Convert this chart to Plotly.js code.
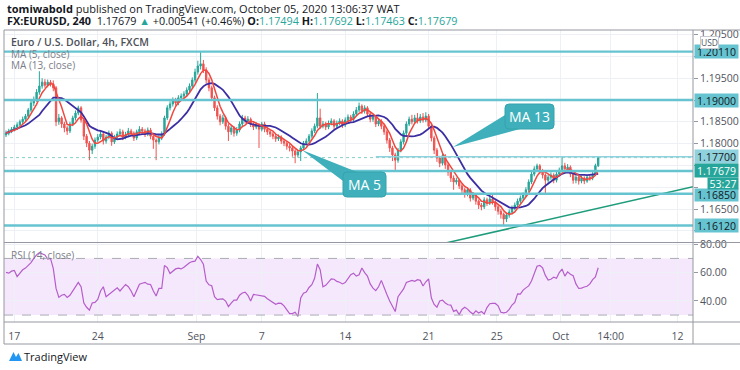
<!DOCTYPE html>
<html><head><meta charset="utf-8">
<script src="https://cdn.plot.ly/plotly-3.0.1.min.js"></script>
<style>body{margin:0;background:#fff}#c{width:740px;height:370px}</style>
</head><body><div id="c"></div>
<script>
// ---- data (EUR/USD 4h, bar index 0..213) ----
const firstOpen = 1.1820;
const closes = [
1.1824,1.1829,1.1833,1.1838,1.1843,1.1850,1.1856,1.1863,1.1877,1.1893,
1.1900,1.1918,1.1932,1.1941,1.1934,1.1941,1.1937,1.1928,1.1850,1.1859,
1.1845,1.1836,1.1829,1.1845,1.1859,1.1870,1.1882,1.1854,1.1817,1.1801,
1.1785,1.1794,1.1808,1.1815,1.1822,1.1806,1.1815,1.1824,1.1804,1.1815,
1.1822,1.1827,1.1815,1.1820,1.1829,1.1824,1.1813,1.1827,1.1833,1.1829,
1.1822,1.1831,1.1817,1.1808,1.1804,1.1813,1.1822,1.1859,1.1882,1.1891,
1.1900,1.1893,1.1905,1.1909,1.1914,1.1923,1.1932,1.1946,1.1964,1.1978,
1.1983,1.1969,1.1946,1.1928,1.1905,1.1882,1.1863,1.1850,1.1859,1.1840,
1.1827,1.1836,1.1824,1.1831,1.1845,1.1859,1.1852,1.1856,1.1845,1.1838,
1.1843,1.1833,1.1845,1.1833,1.1827,1.1822,1.1817,1.1811,1.1815,1.1806,
1.1801,1.1794,1.1790,1.1783,1.1774,1.1781,1.1790,1.1801,1.1806,1.1817,
1.1829,1.1840,1.1859,1.1840,1.1845,1.1838,1.1847,1.1852,1.1840,1.1847,
1.1852,1.1843,1.1854,1.1861,1.1856,1.1868,1.1877,1.1886,1.1875,1.1882,
1.1868,1.1856,1.1861,1.1845,1.1852,1.1840,1.1827,1.1808,1.1790,1.1774,
1.1762,1.1785,1.1804,1.1824,1.1845,1.1856,1.1850,1.1859,1.1852,1.1861,
1.1854,1.1863,1.1840,1.1813,1.1785,1.1767,1.1755,1.1772,1.1751,1.1735,
1.1721,1.1712,1.1716,1.1703,1.1694,1.1684,1.1694,1.1675,1.1682,1.1668,
1.1659,1.1655,1.1671,1.1664,1.1673,1.1666,1.1655,1.1645,1.1638,1.1627,
1.1636,1.1643,1.1652,1.1659,1.1668,1.1675,1.1682,1.1694,1.1712,1.1730,
1.1742,1.1749,1.1737,1.1728,1.1716,1.1723,1.1728,1.1716,1.1730,1.1739,
1.1749,1.1742,1.1746,1.1730,1.1716,1.1723,1.1714,1.1721,1.1714,1.1723,
1.1721,1.1730,1.17494,1.17679];
const highs = [
1.1830,1.1834,1.1838,1.1843,1.1849,1.1855,1.1862,1.1868,1.1882,1.1899,
1.1908,1.1925,1.1966,1.1950,1.1948,1.1947,1.1946,1.1945,1.1932,1.1868,
1.1863,1.1850,1.1840,1.1850,1.1864,1.1876,1.1887,1.1886,1.1858,1.1822,
1.1806,1.1800,1.1814,1.1822,1.1828,1.1826,1.1820,1.1830,1.1828,1.1820,
1.1828,1.1834,1.1832,1.1827,1.1836,1.1834,1.1828,1.1832,1.1840,1.1838,
1.1834,1.1837,1.1836,1.1822,1.1812,1.1819,1.1828,1.1864,1.1888,1.1897,
1.1906,1.1905,1.1911,1.1915,1.1920,1.1929,1.1938,1.1952,1.1972,1.1990,
1.2011,1.1992,1.1975,1.1952,1.1933,1.1910,1.1888,1.1868,1.1866,1.1864,
1.1845,1.1842,1.1840,1.1838,1.1851,1.1866,1.1864,1.1863,1.1860,1.1849,
1.1849,1.1847,1.1850,1.1850,1.1838,1.1832,1.1827,1.1822,1.1821,1.1819,
1.1811,1.1806,1.1799,1.1795,1.1787,1.1786,1.1795,1.1806,1.1812,1.1822,
1.1835,1.1846,1.1916,1.1880,1.1852,1.1850,1.1853,1.1858,1.1856,1.1853,
1.1858,1.1856,1.1860,1.1867,1.1866,1.1874,1.1884,1.1894,1.1890,1.1888,
1.1886,1.1872,1.1868,1.1865,1.1858,1.1856,1.1845,1.1832,1.1813,1.1795,
1.1779,1.1790,1.1810,1.1830,1.1851,1.1862,1.1866,1.1866,1.1870,1.1868,
1.1870,1.1872,1.1868,1.1845,1.1818,1.1790,1.1772,1.1778,1.1776,1.1756,
1.1740,1.1727,1.1722,1.1720,1.1708,1.1699,1.1700,1.1698,1.1689,1.1686,
1.1672,1.1664,1.1677,1.1676,1.1680,1.1685,1.1670,1.1660,1.1650,1.1642,
1.1642,1.1649,1.1658,1.1665,1.1674,1.1681,1.1688,1.1700,1.1718,1.1737,
1.1748,1.1754,1.1753,1.1742,1.1732,1.1729,1.1734,1.1732,1.1736,1.1745,
1.1771,1.1756,1.1753,1.1750,1.1734,1.1728,1.1727,1.1726,1.1725,1.1728,
1.1728,1.1735,1.1754,1.17692];
const lows = [
1.1815,1.1819,1.1824,1.1828,1.1832,1.1839,1.1845,1.1851,1.1859,1.1872,
1.1886,1.1896,1.1912,1.1926,1.1928,1.1929,1.1931,1.1920,1.1840,1.1843,
1.1836,1.1826,1.1820,1.1824,1.1840,1.1853,1.1865,1.1848,1.1808,1.1792,
1.1762,1.1776,1.1788,1.1803,1.1810,1.1798,1.1800,1.1810,1.1795,1.1799,
1.1810,1.1817,1.1808,1.1810,1.1815,1.1818,1.1806,1.1808,1.1822,1.1823,
1.1815,1.1817,1.1810,1.1788,1.1762,1.1798,1.1808,1.1818,1.1854,1.1876,
1.1885,1.1887,1.1888,1.1899,1.1904,1.1909,1.1918,1.1927,1.1940,1.1958,
1.1970,1.1962,1.1938,1.1920,1.1898,1.1875,1.1855,1.1842,1.1845,1.1832,
1.1806,1.1820,1.1816,1.1818,1.1826,1.1840,1.1846,1.1847,1.1838,1.1831,
1.1833,1.1790,1.1828,1.1826,1.1820,1.1815,1.1810,1.1804,1.1806,1.1799,
1.1794,1.1786,1.1782,1.1770,1.1755,1.1768,1.1760,1.1785,1.1796,1.1800,
1.1812,1.1824,1.1835,1.1834,1.1835,1.1831,1.1833,1.1842,1.1833,1.1835,
1.1842,1.1836,1.1838,1.1849,1.1850,1.1851,1.1863,1.1872,1.1868,1.1869,
1.1861,1.1849,1.1850,1.1838,1.1840,1.1833,1.1820,1.1800,1.1781,1.1760,
1.1737,1.1756,1.1780,1.1798,1.1818,1.1840,1.1844,1.1845,1.1846,1.1847,
1.1848,1.1849,1.1833,1.1805,1.1776,1.1758,1.1746,1.1750,1.1742,1.1726,
1.1712,1.1694,1.1706,1.1696,1.1686,1.1676,1.1679,1.1667,1.1670,1.1660,
1.1650,1.1647,1.1650,1.1657,1.1659,1.1660,1.1646,1.1637,1.1628,1.1612,
1.1620,1.1630,1.1638,1.1647,1.1654,1.1663,1.1670,1.1677,1.1689,1.1707,
1.1725,1.1736,1.1731,1.1720,1.1685,1.1710,1.1717,1.1709,1.1711,1.1725,
1.1734,1.1736,1.1737,1.1723,1.1708,1.1709,1.1706,1.1709,1.1707,1.1710,
1.1715,1.1716,1.1726,1.17463];
const rsiValues = [
60.1,59.6,61,61.5,57.2,60,62,63.2,64.8,67,
70,72.5,74,73.3,72.4,69.5,70,63,48.8,42.5,
44,44.6,42.5,44,47,50.5,53.1,50,38.5,35.5,
33.5,38.5,38.9,41,47,50,43,44.5,46.3,48,
49.2,47,49.5,51.6,50,47,43,47,51.8,52.5,
53.1,51.8,51.6,47,43.5,48.8,48.8,65,63.5,59.4,
61,62.6,63.2,62.6,63.8,65.7,67,67.8,68.1,71.5,
69.2,66,54,51.4,50.7,43,40.9,41.3,41.5,39.9,
36,38.5,40.6,40.6,44,45.6,46.2,44,40,44.6,
44.3,44,43.8,43.2,41.5,40,38.5,37.6,38.4,38.2,
36.5,34,31,31,32,29,42,45.5,46.2,49.5,
51.5,56,66,62,50,51,53,55.5,55.3,53.8,
53.2,52,53,55.8,58.5,59.5,57.5,58.5,63.2,60,
57.5,52,49,47.2,50,54.5,49,44.5,40,36.5,
32.5,43,45.5,48.5,53,54,54.5,53.8,55,54.5,
50.5,53.5,55.5,42,37.5,35.5,40,40.6,38.5,37.3,
37,32.6,33.5,30.3,34,35.5,34.2,32.2,30.7,33,
31.5,32.5,30.8,35.3,38,38.2,38.2,36.5,32,31.5,
32,34,37.1,39,45,44.8,47.6,49.2,50.6,54,
60,64.5,65,63.3,58,54.7,55.3,56.8,56,60,
62.5,57.5,60.5,58.8,57.8,52,48.8,49,49.8,50.3,
52,55,57,63.4];
const tickVals = [3,33,68.5,92,122,152,176.5,199.5,217.5,241.5];
const tickText = ['17','24','Sep','7','14','21','25','Oct','14:00','12'];
const priceTicks = [1.160,1.165,1.170,1.175,1.180,1.185,1.190,1.195,1.200,1.205];
// tick labels hidden behind the level/price boxes on the right scale
const priceTickText = ['','1.16500','','','1.18000','1.18500','','1.19500','','1.20500'];
const rsiTicks = [40,60,80];
const levels = [1.2011,1.1900,1.1737,1.1685,1.1612];
const rayLevel = 1.1770, rayStart = 133;
const lastPrice = 1.17679;
const trendX = [155,247.1], trendY = [1.15675,1.1701];

// ---- derived ----
const idx = closes.map((_,i)=>i);
const opens = closes.map((c,i)=> i ? closes[i-1] : firstOpen);
function sma(a,n){return a.map((_,i)=>{const s=a.slice(Math.max(0,i-n+1),i+1);return s.reduce((p,c)=>p+c,0)/s.length;});}
const ma5 = sma(closes,5), ma13 = sma(closes,13);

// pixel -> paper helpers for layout decorations
const L=4,R=693,T=30,B=344;
const X = p => (p-L)/(R-L);
const Y = p => (B-p)/(B-T);
function poly(pts){return 'M'+pts.map(p=>X(p[0])+','+Y(p[1])).join(' L')+' Z';}
function rrect(x0,y0,x1,y1,r){
  return `M${X(x0+r)},${Y(y0)} L${X(x1-r)},${Y(y0)} Q${X(x1)},${Y(y0)} ${X(x1)},${Y(y0+r)} L${X(x1)},${Y(y1-r)} Q${X(x1)},${Y(y1)} ${X(x1-r)},${Y(y1)} L${X(x0+r)},${Y(y1)} Q${X(x0)},${Y(y1)} ${X(x0)},${Y(y1-r)} L${X(x0)},${Y(y0+r)} Q${X(x0)},${Y(y0)} ${X(x0+r)},${Y(y0)} Z`;
}

const UP='#26a69a', DN='#ef5350', LVL='#66c3d0', CALL='#3fb0bb';
const FONT='Open Sans, sans-serif';

const traces = [
 {type:'candlestick', x:idx, open:opens, high:highs, low:lows, close:closes, xaxis:'x', yaxis:'y',
  increasing:{line:{color:UP,width:1},fillcolor:UP}, decreasing:{line:{color:DN,width:1},fillcolor:DN},
  whiskerwidth:0, hoverinfo:'skip'},
 {type:'scatter', mode:'lines', x:idx, y:ma13, line:{color:'#3b2ea3',width:1.8}, xaxis:'x', yaxis:'y', hoverinfo:'skip'},
 {type:'scatter', mode:'lines', x:idx, y:ma5, line:{color:'#f0473f',width:1.5}, xaxis:'x', yaxis:'y', hoverinfo:'skip'},
 {type:'scatter', mode:'lines', x:trendX, y:trendY, line:{color:'#1e9c7c',width:1.5}, xaxis:'x', yaxis:'y', hoverinfo:'skip'},
 {type:'scatter', mode:'lines', x:idx, y:rsiValues, line:{color:'#b55dca',width:1.2}, xaxis:'x', yaxis:'y2', hoverinfo:'skip'}
];

const shapes = [
 {type:'rect', xref:'paper', x0:0, x1:1, yref:'y2', y0:30, y1:70, fillcolor:'#f5e8fc', line:{width:0}, layer:'below'},
 {type:'line', xref:'paper', x0:0, x1:1, yref:'y2', y0:70, y1:70, line:{color:'#a9acb5',width:1,dash:'dash'}},
 {type:'line', xref:'paper', x0:0, x1:1, yref:'y2', y0:30, y1:30, line:{color:'#a9acb5',width:1,dash:'dash'}},
 {type:'line', xref:'paper', x0:0, x1:1, yref:'y', y0:lastPrice, y1:lastPrice, line:{color:'rgba(38,166,154,0.55)',width:1,dash:'dot'}},
 {type:'line', xref:'x', x0:rayStart, x1:247.1, yref:'y', y0:rayLevel, y1:rayLevel, line:{color:'#8fd1dc',width:1.6}},
];
levels.forEach(v=>shapes.push({type:'line', xref:'paper', x0:0, x1:1, yref:'y', y0:v, y1:v, line:{color:LVL,width:2.4}}));
// frame
const fr = {color:'#9598a1',width:1};
shapes.push(
 {type:'line', xref:'paper', yref:'paper', x0:X(4), x1:X(740), y0:Y(30), y1:Y(30), line:fr},
 {type:'line', xref:'paper', yref:'paper', x0:X(4), x1:X(740), y0:Y(344), y1:Y(344), line:fr},
 {type:'line', xref:'paper', yref:'paper', x0:X(4), x1:X(4), y0:Y(30), y1:Y(344), line:fr},
 {type:'line', xref:'paper', yref:'paper', x0:X(693), x1:X(693), y0:Y(30), y1:Y(344), line:fr},
 {type:'line', xref:'paper', yref:'paper', x0:X(4), x1:X(740), y0:Y(242.5), y1:Y(242.5), line:fr},
 {type:'line', xref:'paper', yref:'paper', x0:X(4), x1:X(740), y0:Y(322), y1:Y(322), line:fr}
);
// callouts
shapes.push(
 {type:'path', xref:'paper', yref:'paper', path:poly([[505,115],[520,129],[453,147]]), fillcolor:CALL, line:{width:0}},
 {type:'path', xref:'paper', yref:'paper', path:rrect(505,104,554,129,4), fillcolor:CALL, line:{color:'#35a2ad',width:1}},
 {type:'path', xref:'paper', yref:'paper', path:poly([[343,181],[357,172],[302,150]]), fillcolor:CALL, line:{width:0}},
 {type:'path', xref:'paper', yref:'paper', path:rrect(343,172,386,197,4), fillcolor:CALL, line:{color:'#35a2ad',width:1}},
 {type:'path', xref:'paper', yref:'paper', path:poly([[9,361],[13.5,352],[16,357],[18.5,353],[22,361]]), fillcolor:'#2196f3', line:{width:0}}
);

function txt(x,y,text,size,color,extra){return Object.assign({xref:'paper',yref:'paper',x:X(x),y:Y(y),xanchor:'left',yanchor:'middle',text,showarrow:false,font:{size,color,family:FONT}},extra||{});}
function plabel(v,text,bg,color,yshift,x,w,h){return {xref:'paper',yref:'y',x:X(x||694),y:v,xanchor:'left',yanchor:'middle',yshift:yshift||0,text,showarrow:false,bgcolor:bg,width:w||43,height:h||13,borderpad:0,align:'center',font:{size:10.5,color,family:FONT}};}

const G='#26a69a';
const annotations = [
 txt(5,8,'<b>tomiwabold</b> published on TradingView.com, October 05, 2020 13:06:37 WAT',11,'#131722'),
 txt(5,21,`<b>FX:EURUSD, 240</b>  1.17679 <span style="color:${G}">▲</span> +0.00541 (+0.46%) <b>O:</b><span style="color:${G}">1.17494</span> <b>H:</b><span style="color:${G}">1.17692</span> <b>L:</b><span style="color:${G}">1.17463</span> <b>C:</b><span style="color:${G}">1.17679</span>`,10.8,'#131722'),
 txt(9,42,'Euro / U.S. Dollar, 4h, FXCM',10.5,'#4c4f58',{font:{size:10.5,color:'#4c4f58',family:FONT,weight:600}}),
 txt(9,53.5,'MA (5, close)',10,'#7b7e88'),
 txt(9,64.5,'MA (13, close)',10,'#7b7e88'),
 txt(9,255,'RSI (14, close)',10,'#7b7e88'),
 txt(22,356,'TradingView',11,'#131722'),
 {xref:'paper',yref:'paper',x:X(529.5),y:Y(116.5),xanchor:'center',yanchor:'middle',text:'MA 13',showarrow:false,font:{size:14,color:'#ffffff',family:FONT}},
 {xref:'paper',yref:'paper',x:X(364.5),y:Y(184.5),xanchor:'center',yanchor:'middle',text:'MA 5',showarrow:false,font:{size:14,color:'#ffffff',family:FONT}},
 plabel(1.2011,'1.20110',LVL,'#131722'),
 plabel(1.1900,'1.19000',LVL,'#131722'),
 plabel(rayLevel,'1.17700','#8fd1dc','#131722'),
 plabel(lastPrice,'1.17679',G,'#ffffff',-13),
 plabel(1.1685,'1.16850',LVL,'#131722',-1,null,null,12),
 plabel(lastPrice,'53:27',G,'#ffffff',-26,707,30,11),
 plabel(1.1612,'1.16120',LVL,'#131722'),
 {xref:'paper',yref:'paper',x:X(700),y:Y(42),xanchor:'left',yanchor:'middle',text:'USD',showarrow:false,bgcolor:'#ffffff',bordercolor:'#c8cad0',borderwidth:1,borderpad:0,font:{size:8.5,color:'#50535e',family:FONT}}
];

const layout = {
 width:740, height:370, margin:{l:L,r:740-R,t:T,b:370-B},
 paper_bgcolor:'#ffffff', plot_bgcolor:'#ffffff', showlegend:false,
 font:{family:FONT,size:10,color:'#50535e'},
 xaxis:{domain:[0,1], range:[-0.72,247.1], anchor:'y2', tickvals:tickVals, ticktext:tickText,
   showgrid:true, gridcolor:'#edf1f6', zeroline:false, showline:false, ticks:'', ticklabelstandoff:6,
   tickfont:{size:10.5,color:'#50535e'}, rangeslider:{visible:false}, fixedrange:true},
 yaxis:{domain:[Y(242),1], range:[1.15743,1.20606], side:'right', anchor:'x', tickvals:priceTicks, ticktext:priceTickText,
   showgrid:true, gridcolor:'#edf1f6', zeroline:false, ticks:'outside', ticklen:4, tickcolor:'#9598a1',
   tickfont:{size:10.5,color:'#50535e'}, fixedrange:true},
 yaxis2:{domain:[Y(322),Y(243)], range:[25.1,80.9], side:'right', anchor:'x', tickvals:rsiTicks, tickformat:'.2f',
   showgrid:true, gridcolor:'#edf1f6', zeroline:false, ticks:'outside', ticklen:4, tickcolor:'#9598a1',
   tickfont:{size:10.5,color:'#50535e'}, fixedrange:true},
 shapes, annotations
};
Plotly.newPlot('c', traces, layout, {displayModeBar:false, staticPlot:true});
</script></body></html>
